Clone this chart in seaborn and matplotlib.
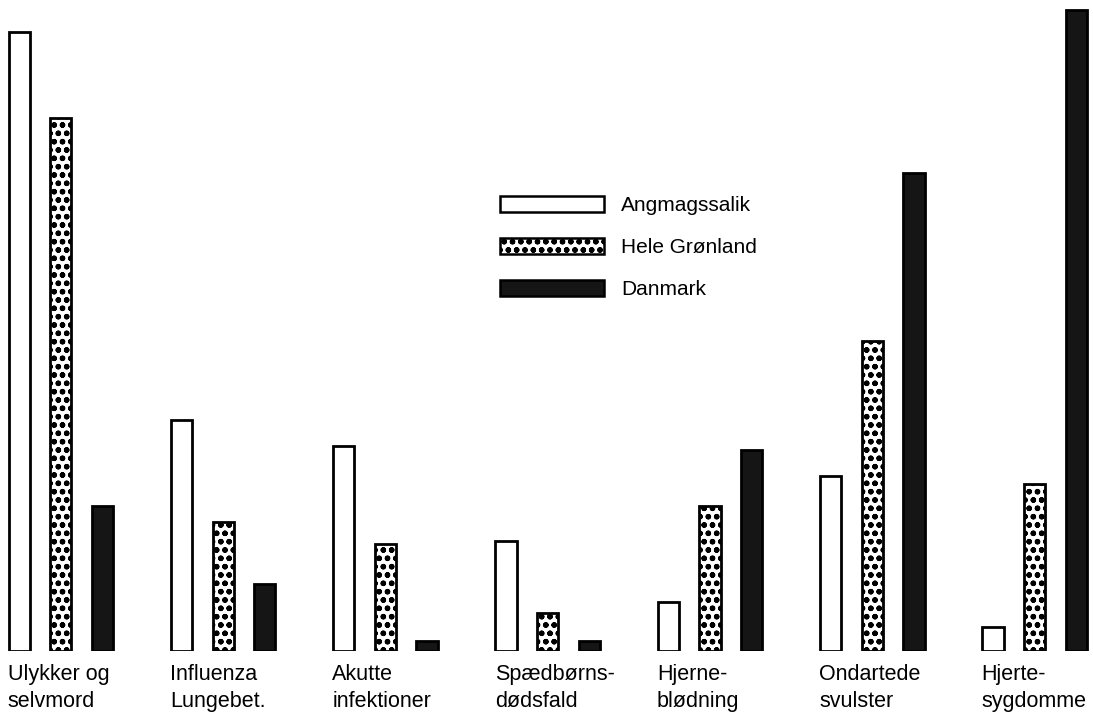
import matplotlib

matplotlib.use("Agg")
import matplotlib.pyplot as plt
import matplotlib.transforms as mtransforms
import pandas as pd
import seaborn as sns
from matplotlib.patches import Patch

# values (relative bar heights, no y scale in the original)
categories = [
    "Ulykker og\nselvmord",
    "Influenza\nLungebet.",
    "Akutte\ninfektioner",
    "Spædbørns-\ndødsfald",
    "Hjerne-\nblødning",
    "Ondartede\nsvulster",
    "Hjerte-\nsygdomme",
]
series = ["Angmagssalik", "Hele Grønland", "Danmark"]
angmagssalik = [619, 231, 205, 110, 49, 175, 24]
hele_gronland = [533, 129, 107, 38, 145, 310, 167]
danmark = [145, 67, 10, 10, 201, 478, 641]

df = pd.DataFrame(
    {
        "kategori": categories * 3,
        "område": [s for s in series for _ in categories],
        "værdi": angmagssalik + hele_gronland + danmark,
    }
)

sns.set_theme(style="white")
plt.rcParams["font.family"] = ["Liberation Sans", "DejaVu Sans"]
plt.rcParams["hatch.color"] = "black"
plt.rcParams["hatch.linewidth"] = 1.6

fig = plt.figure(figsize=(10.93, 7.12), dpi=100)
ax = fig.add_axes([0, 61 / 712, 1, 651 / 712])

palette = {"Angmagssalik": "white", "Hele Grønland": "white", "Danmark": "#151515"}
sns.barplot(
    data=df,
    x="kategori",
    y="værdi",
    hue="område",
    hue_order=series,
    order=categories,
    palette=palette,
    width=0.77,
    gap=0.49,
    errorbar=None,
    edgecolor="black",
    linewidth=2.0,
    legend=False,
    ax=ax,
)

# dotted fill for "Hele Grønland"
for bar in ax.containers[1]:
    bar.set_hatch("oo..")

ax.set_xlim(-0.375, 6.36)
ax.set_ylim(0, 651)
ax.set_axis_off()

# category labels under each group, left aligned with the first bar
trans = mtransforms.blended_transform_factory(ax.transData, ax.transAxes)
for bar, label in zip(ax.containers[0], categories):
    ax.text(
        bar.get_x() - 0.005,
        -0.02,
        label,
        transform=trans,
        ha="left",
        va="top",
        fontsize=15.5,
        linespacing=1.38,
        color="black",
    )

handles = [
    Patch(facecolor="white", edgecolor="black", linewidth=1.8, label=series[0]),
    Patch(facecolor="white", edgecolor="black", linewidth=1.8, hatch="oo..", label=series[1]),
    Patch(facecolor="#151515", edgecolor="black", linewidth=1.8, label=series[2]),
]
leg = fig.legend(
    handles=handles,
    loc="upper left",
    bbox_to_anchor=(500 / 1093, 1 - 196 / 712),
    frameon=False,
    fontsize=15,
    handlelength=5.0,
    handleheight=0.8,
    handletextpad=0.8,
    labelspacing=1.1,
    borderpad=0,
    borderaxespad=0,
)
for t in leg.get_texts():
    t.set_color("black")

fig.savefig("out.png", dpi=100)
